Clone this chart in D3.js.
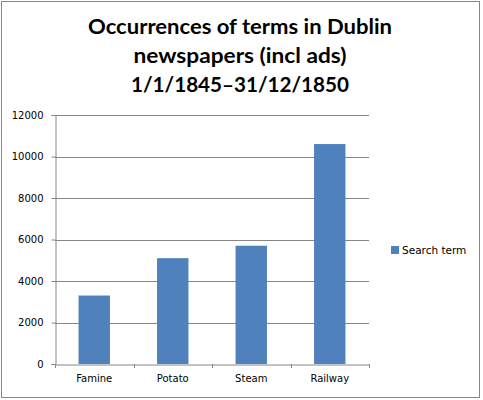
<!DOCTYPE html>
<html>
<head>
<meta charset="utf-8">
<script src="https://cdn.jsdelivr.net/npm/d3@7"></script>
<style>
  html, body { margin: 0; padding: 0; background: #fff; }
  svg { display: block; }
</style>
</head>
<body>
<svg id="chart" width="483" height="400"></svg>
<script>
// ---- data ----
const categories = ["Famine", "Potato", "Steam", "Railway"];
const values = [3300, 5100, 5700, 10600];
const yTicks = [0, 2000, 4000, 6000, 8000, 10000, 12000];
const seriesName = "Search term";
const titleLines = ["Occurrences of terms in Dublin", "newspapers (incl ads)", "1/1/1845\u201331/12/1850"];

// ---- layout ----
const W = 483, H = 400;
const plot = { left: 55, right: 369, top: 115, bottom: 364 };
const barColor = "#4F81BD";
const gridColor = "#868686";
const labelFont = "'DejaVu Sans', sans-serif";

const svg = d3.select("#chart");

// outer border
svg.append("rect")
  .attr("x", 1.5).attr("y", 1.5)
  .attr("width", 478).attr("height", 396)
  .attr("fill", "#fff")
  .attr("stroke", "#868686").attr("stroke-width", 1);

// title
const titleWidths = [304, 213, 218];
const titleBase = [34, 63, 92];
svg.append("g").selectAll("text")
  .data(titleLines)
  .join("text")
  .attr("x", 240)
  .attr("y", (d, i) => titleBase[i])
  .attr("text-anchor", "middle")
  .attr("font-family", "Lato, 'Open Sans', sans-serif")
  .attr("font-weight", "bold")
  .attr("font-size", 20)
  .attr("textLength", (d, i) => titleWidths[i])
  .attr("lengthAdjust", "spacingAndGlyphs")
  .attr("fill", "#000")
  .text(d => d);

// scales
const x = d3.scaleBand().domain(categories).range([plot.left, plot.right]).paddingInner(0).paddingOuter(0);
const y = d3.scaleLinear().domain([0, 12000]).range([plot.bottom, plot.top]);
const barW = x.bandwidth() / 2.5;

// gridlines
svg.append("g").selectAll("line")
  .data(yTicks.filter(t => t > 0))
  .join("line")
  .attr("x1", plot.left).attr("x2", plot.right)
  .attr("y1", d => Math.round(y(d)) + 0.5).attr("y2", d => Math.round(y(d)) + 0.5)
  .attr("stroke", gridColor).attr("stroke-width", 1);

// bars
svg.append("g").selectAll("rect")
  .data(categories.map((c, i) => ({ c, v: values[i] })))
  .join("rect")
  .attr("x", d => x(d.c) + (x.bandwidth() - barW) / 2)
  .attr("width", barW)
  .attr("y", d => y(d.v))
  .attr("height", d => y(0) - y(d.v))
  .attr("fill", barColor);

// y axis
const yAxis = d3.axisLeft(y).tickValues(yTicks).tickSize(4).tickPadding(8).tickFormat(d3.format("d"));
const gy = svg.append("g")
  .attr("transform", `translate(${plot.left + 0.5},0)`)
  .call(yAxis);
gy.select(".domain").attr("stroke", gridColor);
gy.selectAll(".tick line").attr("stroke", gridColor);
gy.selectAll(".tick text")
  .attr("font-family", labelFont).attr("font-size", 10).attr("fill", "#000");

// x axis
const xAxis = d3.axisBottom(x).tickSize(0).tickPadding(10);
const gx = svg.append("g")
  .attr("transform", `translate(0,${plot.bottom + 0.5})`)
  .call(xAxis);
gx.select(".domain").attr("stroke", gridColor);
gx.selectAll(".tick text")
  .attr("font-family", labelFont).attr("font-size", 10).attr("fill", "#000");

// x tick marks at band boundaries
const boundaries = categories.map(c => x(c)).concat([plot.right]);
svg.append("g").selectAll("line")
  .data(boundaries)
  .join("line")
  .attr("x1", d => Math.round(d) + 0.5).attr("x2", d => Math.round(d) + 0.5)
  .attr("y1", plot.bottom).attr("y2", plot.bottom + 4)
  .attr("stroke", gridColor);

// legend
const lg = svg.append("g").attr("transform", "translate(391,246)");
lg.append("rect").attr("width", 8).attr("height", 8).attr("fill", barColor);
lg.append("text")
  .attr("x", 11).attr("y", 8)
  .attr("font-family", labelFont).attr("font-size", 10.5).attr("fill", "#000")
  .text(seriesName);
</script>
</body>
</html>
